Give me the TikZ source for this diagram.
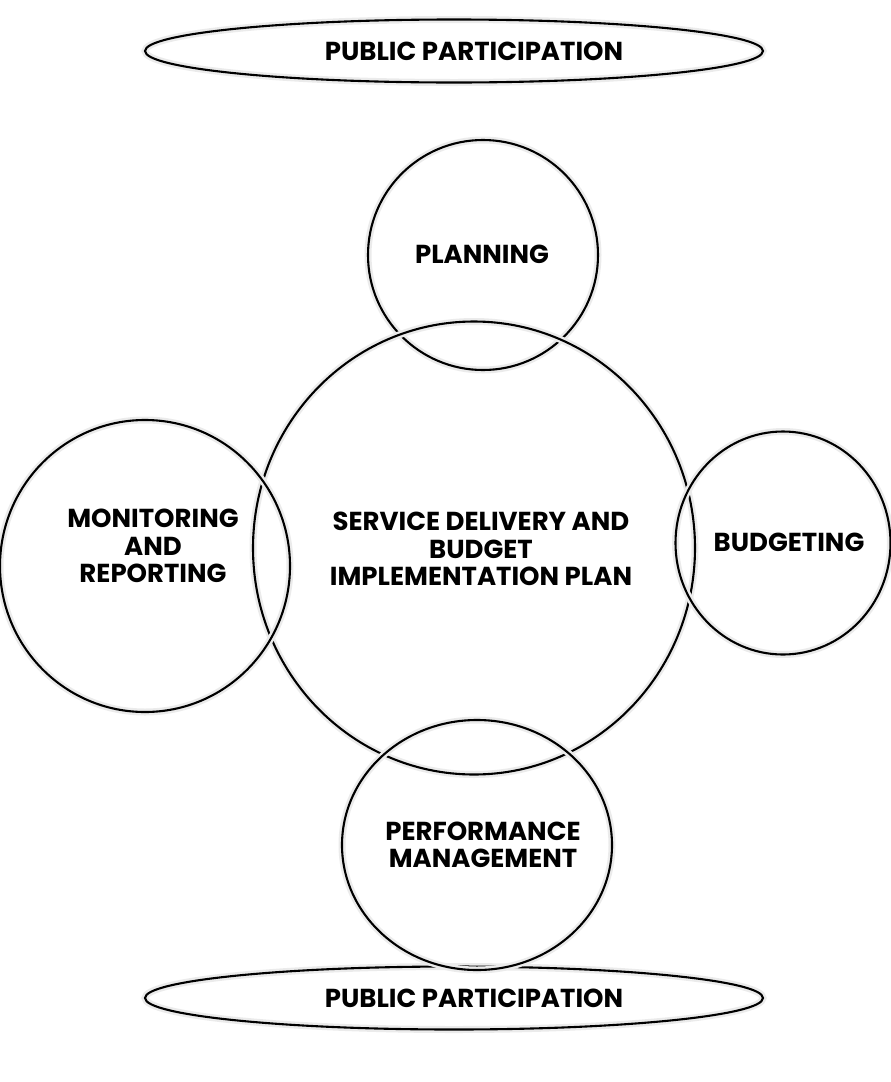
\documentclass[tikz,border=0pt]{standalone}
\usepackage{fontspec}
\setmainfont{Poppins}
\usetikzlibrary{shapes.geometric}

\begin{document}
\begin{tikzpicture}[x=1pt,y=-1pt,
    ring/.style={draw,ellipse,line width=2.1pt,inner sep=0pt,
        preaction={draw=black!8,line width=7pt}},
    lbl/.style={font=\fontsize{26}{27.5}\selectfont\bfseries,align=center}]
\useasboundingbox (0,0) rectangle (891,1082);
% public participation, top and bottom
\foreach \y/\n in {51/top, 998/bot} {
    \node[ring,minimum width=618pt,minimum height=63pt] (pp\n) at (454,\y) {};
    \node[lbl] (pp\n Txt) at (474,\y) {PUBLIC PARTICIPATION};
}
% the four stages round the plan
\node[ring,minimum width=230pt,minimum height=230pt] (plan) at (483,255) {};
\node[lbl] (planTxt) at (482,254) {PLANNING};
\node[ring,minimum width=442pt,minimum height=453pt] (sdbip) at (474,548) {};
\node[lbl] (sdbipTxt) at (481,549) {SERVICE DELIVERY AND\\BUDGET\\IMPLEMENTATION PLAN};
\node[ring,minimum width=290pt,minimum height=292pt] (mon) at (145,566) {};
\node[lbl] (monTxt) at (153,546) {MONITORING\\AND\\REPORTING};
\node[ring,minimum width=215pt,minimum height=223pt] (budget) at (783,543) {};
\node[lbl] (budgetTxt) at (789,542) {BUDGETING};
\node[ring,minimum width=270pt,minimum height=250pt] (perf) at (477,845) {};
\node[lbl] (perfTxt) at (483,845) {PERFORMANCE\\MANAGEMENT};
\end{tikzpicture}
\end{document}
